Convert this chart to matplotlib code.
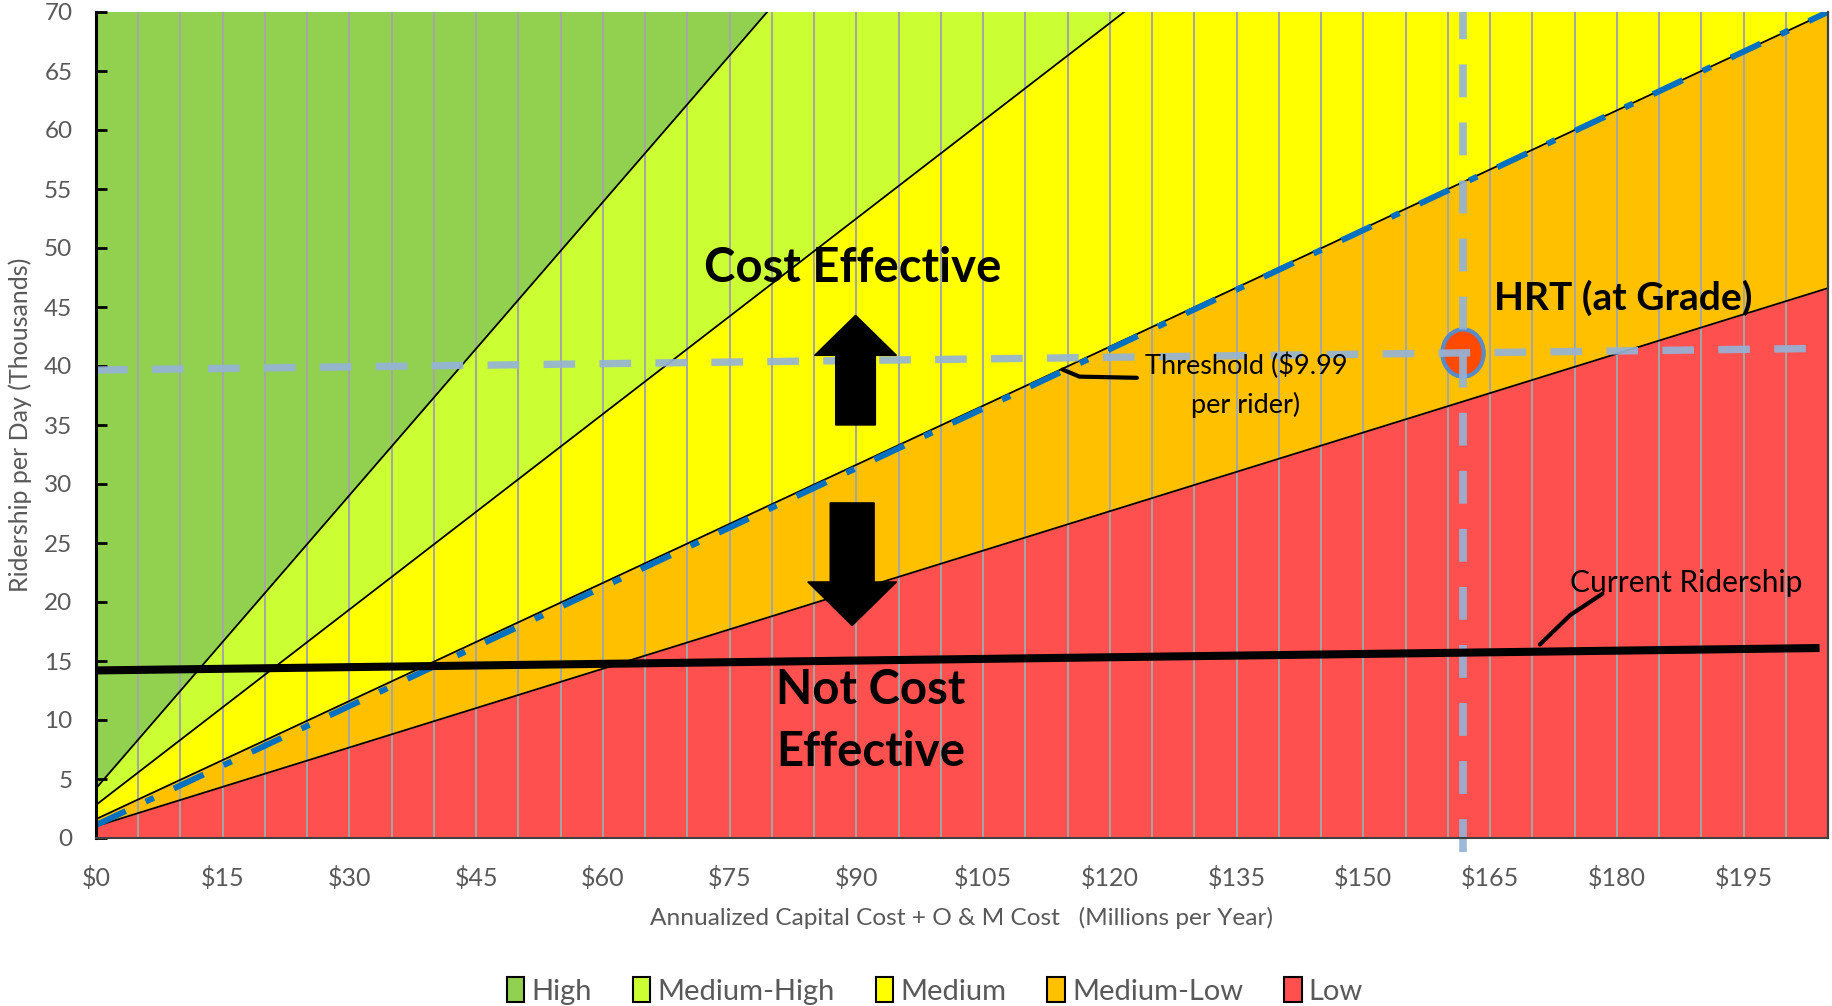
import matplotlib
matplotlib.use("Agg")
import matplotlib.pyplot as plt
from matplotlib.patches import Patch, FancyArrow, Ellipse
import numpy as np

plt.rcParams['font.family'] = ['Lato', 'DejaVu Sans']

# ---------------- data ----------------
x_ends = [0, 205]                      # cost range ($M / year)
low_top = [1.0, 46.6]                  # Low / Medium-Low boundary
medlow_top = [1.6, 70.0]               # Medium-Low / Medium boundary (threshold)
medium_top = [2.8, 116.0]              # Medium / Medium-High boundary
medhigh_top = [4.2, 174.0]             # Medium-High / High boundary
high_top = [70.0, 70.0]

threshold_x = [0, 205]
threshold_y = [1.1, 70.0]              # $9.99 per rider threshold (blue dash-dot)

current_x = [0, 204]
current_y = [14.2, 16.1]               # current ridership

hrt_x = 161.8                          # HRT (at Grade) cost
hrt_y = 41.1                           # HRT ridership
hline_x = [0, 205]
hline_y = [39.66, 41.5]
vline_y = [-1.2, 70]

categories = ['High', 'Medium-High', 'Medium', 'Medium-Low', 'Low']
colors = ['#92D050', '#CCFF33', '#FFFF00', '#FFC000', '#FF5050']

xticks = list(range(0, 200, 15))
xtick_labels = ['$' + str(v) for v in xticks]
yticks = list(range(0, 75, 5))

# ---------------- figure ----------------
fig = plt.figure(figsize=(18.33, 10.06), dpi=100)
ax = fig.add_axes([96 / 1833, 1 - 838 / 1006, (1828 - 96) / 1833, (838 - 12) / 1006])

bands = [(medhigh_top, high_top), (medium_top, medhigh_top), (medlow_top, medium_top),
         (low_top, medlow_top), ([0, 0], low_top)]
for (lo, hi), c in zip(bands, colors):
    ax.fill_between(x_ends, lo, hi, color=c, lw=0, zorder=0)

# vertical gridlines every $5
for gx in range(5, 205, 5):
    ax.axvline(gx, color='#A6A6A6', lw=1.4, zorder=1)

for b in [low_top, medlow_top, medium_top, medhigh_top]:
    ax.plot(x_ends, b, color='black', lw=1.3, zorder=2)

# threshold dash-dot
ax.plot(threshold_x, threshold_y, color='#0070C0', lw=4.3, zorder=3,
        dashes=(5.5, 3.7, 1.5, 3.7), solid_capstyle='butt', dash_capstyle='butt')

# HRT marker
ell = Ellipse((hrt_x, hrt_y), width=4.9, height=4.0, facecolor='#FF4A00',
              edgecolor='#5B8BC7', lw=3, zorder=4)
ax.add_patch(ell)

# dashed guide lines
ax.plot(hline_x, hline_y, color='#95B3D7', lw=5.3, dashes=(4.3, 3.3), zorder=5,
        alpha=0.92, dash_capstyle='butt')
ax.plot([hrt_x, hrt_x], vline_y, color='#95B3D7', lw=5.5, dashes=(4.3, 3.3), zorder=5,
        alpha=0.92, clip_on=False, dash_capstyle='butt')

# current ridership
ax.plot(current_x, current_y, color='black', lw=5.8, zorder=6, solid_capstyle='butt')

# arrows
ax.add_patch(FancyArrow(89.9, 35.0, 0, 9.3, width=4.7, head_width=9.7, head_length=3.4,
                        length_includes_head=True, color='black', zorder=7))
ax.add_patch(FancyArrow(89.5, 28.4, 0, -10.4, width=5.2, head_width=10.5, head_length=3.7,
                        length_includes_head=True, color='black', zorder=7))

# annotations
ax.text(89.6, 48.3, 'Cost Effective', fontsize=34, fontweight='bold', ha='center',
        va='center', zorder=8)
ax.text(91.7, 9.9, 'Not Cost\nEffective', fontsize=34, fontweight='bold', ha='center',
        va='center', linespacing=1.5, zorder=8)
ax.text(180.8, 45.8, 'HRT (at Grade)', fontsize=28, fontweight='bold', ha='center',
        va='center', zorder=8)
ax.text(136.1, 38.4, 'Threshold ($9.99\nper rider)', fontsize=19.5, ha='center',
        va='center', linespacing=1.6, zorder=8)
ax.plot([123.2, 116.4, 114.4], [39.0, 39.1, 39.7], color='black', lw=3, zorder=8,
        solid_capstyle='round')
ax.text(188.2, 21.6, 'Current Ridership', fontsize=21.5, ha='center', va='center', zorder=8)
ax.plot([178.3, 174.5, 170.9], [20.7, 18.9, 16.4], color='black', lw=3, zorder=8,
        solid_capstyle='round')

# axes
ax.set_xlim(0, 205)
ax.set_ylim(0, 70)
ax.set_xticks(xticks)
ax.set_xticklabels(xtick_labels)
ax.set_yticks(yticks)
ax.tick_params(axis='x', length=0, pad=20, labelsize=18, labelcolor='#595959')
ax.tick_params(axis='y', direction='in', length=8, width=2, pad=17, labelsize=17.5,
               labelcolor='#595959')
ax.spines['top'].set_visible(False)
ax.spines['left'].set_linewidth(2.2)
ax.spines['left'].set_color('black')
ax.spines['right'].set_linewidth(1.6)
ax.spines['right'].set_color('#404040')
ax.spines['bottom'].set_linewidth(1.5)
ax.spines['bottom'].set_color('#404040')
for s in ax.spines.values():
    s.set_zorder(9)

ax.set_xlabel('Annualized Capital Cost + O & M Cost   (Millions per Year)', fontsize=17.6,
              color='#595959', labelpad=12)
ax.set_ylabel('Ridership per Day (Thousands)', fontsize=18, color='#595959', labelpad=9)

handles = [Patch(facecolor=c, edgecolor='black', lw=1.5) for c in colors]
fig.legend(handles, categories, loc='center', bbox_to_anchor=(0.51, 1 - 991 / 1006),
           ncol=5, frameon=False, fontsize=21, labelcolor='#595959', handlelength=0.6,
           handleheight=0.9, handletextpad=0.25, columnspacing=1.4)

fig.savefig('out.png', dpi=100)
